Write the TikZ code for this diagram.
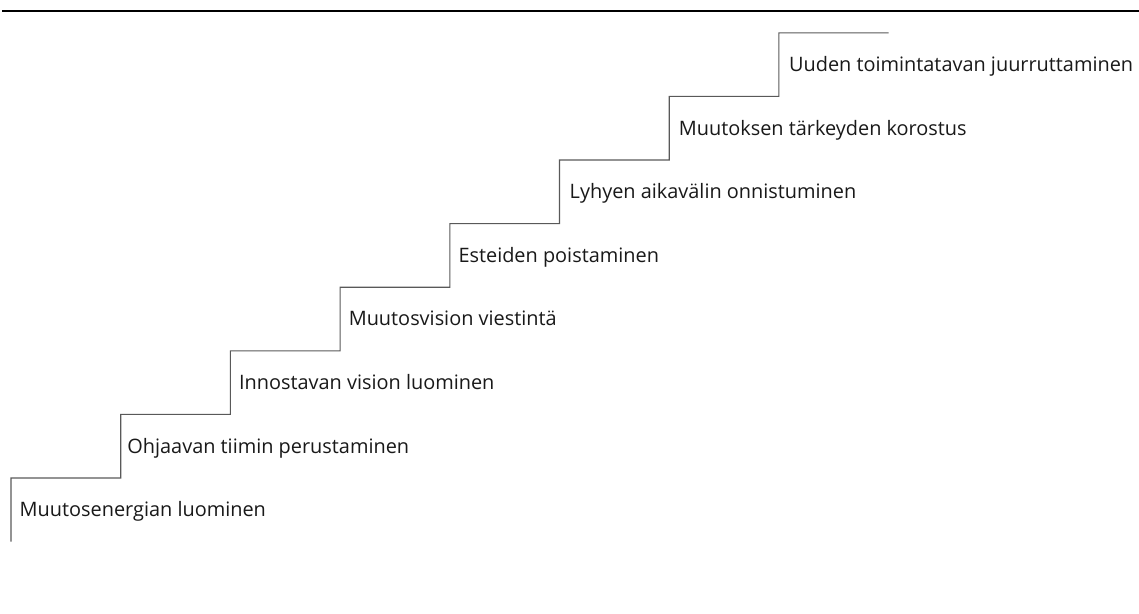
\documentclass[tikz,border=0pt]{standalone}
\usepackage{fontspec}
\setmainfont{Open Sans}[Ligatures=NoCommon]
\begin{document}
\begin{tikzpicture}[x=1pt,y=-1pt,
  stair/.style={draw=black!65,line width=1.1pt},
  steplabel/.style={anchor=base west,inner sep=0pt,font=\fontsize{19.9}{24}\selectfont,text=black!90}]
\useasboundingbox (0,0) rectangle (1139,613);
\draw[line width=2pt] (2,11) -- (1139,11);
\foreach \i in {0,...,7} {
  \coordinate (s\i) at ({11+109.7*\i},{478-63.6*\i});
}
\coordinate (bottom) at (11,541.5);
\coordinate (topend) at (888.6,32.8);
\draw[stair] (bottom) -- (s0)
  -| (s1) -| (s2) -| (s3) -| (s4) -| (s5) -| (s6) -| (s7) -- (topend);
\node[steplabel] (t0) at (19.5,516.7) {Muutosenergian luominen};
\node[steplabel] (t1) at (127.2,453.1) {Ohjaavan tiimin perustaminen};
\node[steplabel] (t2) at (238.9,389.5) {Innostavan vision luominen};
\node[steplabel] (t3) at (348.6,325.9) {Muutosvision viestintä};
\node[steplabel] (t4) at (458.3,262.3) {Esteiden poistaminen};
\node[steplabel] (t5) at (569.5,198.7) {Lyhyen aikavälin onnistuminen};
\node[steplabel] (t6) at (678.7,135.1) {Muutoksen tärkeyden korostus};
\node[steplabel] (t7) at (788.9,71.5) {Uuden toimintatavan juurruttaminen};
\end{tikzpicture}
\end{document}
